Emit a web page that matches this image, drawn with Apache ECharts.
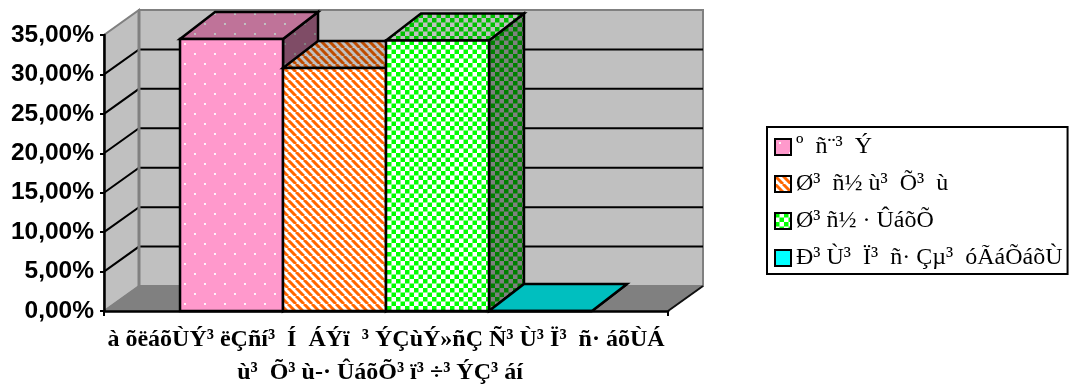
<!DOCTYPE html>
<html>
<head>
<meta charset="utf-8">
<title>chart</title>
<style>
  html, body { margin: 0; padding: 0; background: #fff; }
  #main { width: 1070px; height: 389px; }
</style>
<script src="https://cdn.jsdelivr.net/npm/echarts@6/dist/echarts.min.js"></script>
</head>
<body>
<div id="main"></div>
<script>
var categories = ['à õëáõÙÝ³ ëÇñí³  Í  ÁÝï  ³ ÝÇùÝ»ñÇ Ñ³ Ù³ Ï³  ñ· áõÙÁ\nù³  Õ³ ù-· ÛáõÕ³ ï³ ÷³ ÝÇ³ áí  '];
var seriesNames = ['º  ñ¨³  Ý', 'Ø³  ñ½ ù³  Õ³  ù', 'Ø³ ñ½ · ÛáõÕ', 'Ð³ Ù³  Ï³  ñ· Çµ³  óÃáÕáõÙ'];
var seriesValues = [34.5, 30.8, 34.3, 0];
var yTicks = [5, 10, 15, 20, 25, 30];

var DEPTH_X = 35;
var DEPTH_Y = -25;
var BAR_DEPTH_Y = -27;
var BAR_SHARE = 0.1826;

// fill patterns, one tile per bar face
function tile(w, h, draw) {
  var c = document.createElement('canvas');
  c.width = w;
  c.height = h;
  draw(c.getContext('2d'));
  return { image: c, repeat: 'repeat' };
}
function dots(bg, fg) {
  return tile(20, 20, function (g) {
    g.fillStyle = bg;
    g.fillRect(0, 0, 20, 20);
    g.fillStyle = fg;
    g.fillRect(4, 3, 2, 2);
    g.fillRect(14, 13, 2, 2);
  });
}
function stripes(a, b) {
  return tile(8, 8, function (g) {
    g.fillStyle = b;
    g.fillRect(0, 0, 8, 8);
    g.strokeStyle = a;
    g.lineWidth = 3;
    for (var i = -8; i <= 16; i += 8) {
      g.beginPath();
      g.moveTo(i, 0);
      g.lineTo(i + 8, 8);
      g.stroke();
    }
  });
}
function checks(a, b) {
  return tile(9, 9, function (g) {
    g.fillStyle = b;
    g.fillRect(0, 0, 9, 9);
    g.fillStyle = a;
    g.fillRect(0, 0, 4.5, 4.5);
    g.fillRect(4.5, 4.5, 4.5, 4.5);
  });
}
var faces = [
  { front: dots('#FF99CC', '#FFF0F8'), top: dots('#BF7399', '#C0C0C0'), side: dots('#7F4C66', '#808080') },
  { front: stripes('#FF6600', '#FFFFFF'), top: stripes('#BF4C00', '#C0C0C0'), side: stripes('#7F3300', '#808080') },
  { front: checks('#00FF00', '#FFFFFF'), top: checks('#00BF00', '#C0C0C0'), side: checks('#008000', '#808080') },
  { front: '#00FFFF', top: '#00BFBF', side: '#008080' }
];

function poly(points, fill, stroke, lineWidth) {
  return {
    type: 'polygon',
    shape: { points: points },
    style: { fill: fill, stroke: stroke, lineWidth: lineWidth, lineJoin: 'miter' }
  };
}
function line(points, stroke, lineWidth) {
  return {
    type: 'polyline',
    shape: { points: points },
    style: { fill: 'none', stroke: stroke, lineWidth: lineWidth }
  };
}
function renderWalls(params, api) {
  var cs = params.coordSys;
  var l = cs.x, r = cs.x + cs.width, b = cs.y + cs.height, t = cs.y;
  var kids = [
    poly([[l, b], [l + DEPTH_X, b + DEPTH_Y], [l + DEPTH_X, t + DEPTH_Y], [l, t]], '#C0C0C0', '#808080', 2),
    poly([[l + DEPTH_X, b + DEPTH_Y], [r + DEPTH_X, b + DEPTH_Y], [r + DEPTH_X, t + DEPTH_Y], [l + DEPTH_X, t + DEPTH_Y]], '#C0C0C0', '#808080', 2),
    poly([[l, b], [r, b], [r + DEPTH_X, b + DEPTH_Y], [l + DEPTH_X, b + DEPTH_Y]], '#808080', '#808080', 1),
    line([[r, b], [r + DEPTH_X, b + DEPTH_Y]], '#111', 2)
  ];
  yTicks.forEach(function (v) {
    var y = api.coord([0, v])[1];
    kids.push(line([[l, y], [l + DEPTH_X, y + DEPTH_Y], [r + DEPTH_X, y + DEPTH_Y]], '#000', 2));
  });
  // corner of the walls sits over the grid lines
  kids.push(line([[l + DEPTH_X, b + DEPTH_Y], [l + DEPTH_X, t + DEPTH_Y]], '#808080', 3));
  return { type: 'group', children: kids };
}
function renderBar(idx) {
  return function (params, api) {
    var center = api.coord([api.value(0), 0]);
    var band = api.size([1, 0])[0];
    var w = band * BAR_SHARE;
    var x0 = center[0] + (idx - seriesNames.length / 2) * w;
    var x1 = x0 + w;
    var y0 = api.coord([0, 0])[1];
    var y1 = api.coord([0, api.value(1)])[1];
    var f = faces[idx];
    return {
      type: 'group',
      children: [
        poly([[x1, y1], [x1 + DEPTH_X, y1 + BAR_DEPTH_Y], [x1 + DEPTH_X, y0 + BAR_DEPTH_Y], [x1, y0]], f.side, '#000', 2.5),
        poly([[x0, y1], [x1, y1], [x1 + DEPTH_X, y1 + BAR_DEPTH_Y], [x0 + DEPTH_X, y1 + BAR_DEPTH_Y]], f.top, '#000', 2.5),
        poly([[x0, y0], [x1, y0], [x1, y1], [x0, y1]], f.front, '#000', 2.5)
      ]
    };
  };
}

var series = [{
  type: 'custom',
  name: 'walls',
  silent: true,
  z: 1,
  data: [[0, 0]],
  renderItem: renderWalls
}];
seriesNames.forEach(function (name, i) {
  series.push({
    type: 'custom',
    name: name,
    z: 2 + i,
    itemStyle: { color: faces[i].front, borderColor: '#000', borderWidth: 2 },
    data: [[0, seriesValues[i]]],
    encode: { x: 0, y: 1 },
    renderItem: renderBar(i)
  });
});

var chart = echarts.init(document.getElementById('main'));
chart.setOption({
  animation: false,
  backgroundColor: '#fff',
  grid: { left: 104, right: 402, top: 35, bottom: 77, containLabel: false },
  legend: {
    orient: 'vertical',
    left: 767,
    top: 127,
    padding: [8, 5, 4, 7],
    itemWidth: 16,
    itemHeight: 16,
    itemGap: 13,
    borderColor: '#000',
    borderWidth: 2,
    backgroundColor: '#fff',
    icon: 'rect',
    selectedMode: false,
    textStyle: { fontFamily: 'Liberation Serif', fontSize: 24, color: '#000' },
    data: seriesNames
  },
  xAxis: {
    type: 'category',
    data: categories,
    z: 10,
    axisLine: { lineStyle: { color: '#000', width: 2.5 } },
    axisTick: { show: true, length: 5, lineStyle: { color: '#000', width: 2 } },
    axisLabel: {
      interval: 0,
      margin: 12,
      fontFamily: 'Liberation Serif',
      fontWeight: 'bold',
      fontSize: 24,
      lineHeight: 33,
      color: '#000'
    }
  },
  yAxis: {
    type: 'value',
    min: 0,
    max: 35,
    interval: 5,
    z: 10,
    splitLine: { show: false },
    axisLine: { show: true, lineStyle: { color: '#000', width: 2.5 } },
    axisTick: { show: true, length: 4, lineStyle: { color: '#000', width: 2 } },
    axisLabel: {
      margin: 10,
      padding: [4, 0, 0, 0],
      fontFamily: 'Liberation Sans',
      fontWeight: 'bold',
      fontSize: 24.5,
      color: '#000',
      formatter: function (v) { return v.toFixed(2).replace('.', ',') + '%'; }
    }
  },
  series: series
});
</script>
</body>
</html>
